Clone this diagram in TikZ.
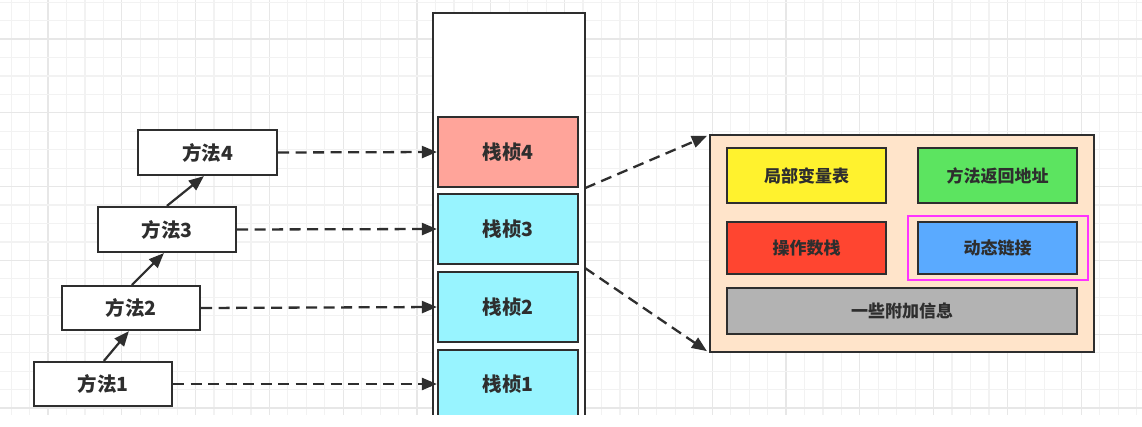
\documentclass[tikz,border=0pt]{standalone}
\usepackage{fontspec}
\setmainfont{Noto Sans CJK SC}
\usetikzlibrary{arrows.meta,calc}
\definecolor{gridminor}{HTML}{F2F2F2}
\definecolor{gridmajor}{HTML}{E7E7E7}
\definecolor{ink}{HTML}{2E2E2E}
\definecolor{salmon}{HTML}{FFA49A}
\definecolor{cyanf}{HTML}{98F4FF}
\definecolor{peach}{HTML}{FFE4CA}
\definecolor{yel}{HTML}{FFF22E}
\definecolor{grn}{HTML}{5CE460}
\definecolor{redf}{HTML}{FF4530}
\definecolor{blu}{HTML}{5AAAFF}
\definecolor{gry}{HTML}{B3B3B3}
\definecolor{mag}{HTML}{FF33FF}
\tikzset{
  x=1pt, y=-1pt,
  box/.style={draw=ink, line width=2.2pt, fill=white, text=ink, inner sep=0pt,
    font=\fontsize{19.5}{22}\selectfont\bfseries},
  methodbox/.style={box, minimum width=138pt, minimum height=44pt},
  framebox/.style={box, minimum width=140pt, minimum height=70pt},
  innerbox/.style={box, line width=2pt, font=\fontsize{17}{20}\selectfont\bfseries},
  callarrow/.style={draw=ink, line width=2.2pt, -{Triangle[length=15pt,width=12pt]}},
  refarrow/.style={draw=ink, line width=2.3pt, dash pattern=on 11pt off 6.5pt,
    -{Triangle[length=15pt,width=12pt]}},
}
\begin{document}
\begin{tikzpicture}
\useasboundingbox (0,0) rectangle (1142,426);
\fill[white] (0,0) rectangle (1142,426);
% grid
\begin{scope}
\clip (0,0) rectangle (1142,415);
\foreach \k in {-2,...,59} {
  \pgfmathsetmacro{\xx}{48+18.45*\k}
  \pgfmathtruncatemacro{\m}{mod(\k+40,4)}
  \ifnum\m=0
    \draw[gridmajor, line width=1.2pt] (\xx,0) -- (\xx,415);
  \else
    \draw[gridminor, line width=1.2pt] (\xx,0) -- (\xx,415);
  \fi
}
\foreach \k in {-2,...,21} {
  \pgfmathsetmacro{\yy}{39+18.45*\k}
  \pgfmathtruncatemacro{\m}{mod(\k+40,4)}
  \ifnum\m=0
    \draw[gridmajor, line width=1.2pt] (0,\yy) -- (1142,\yy);
  \else
    \draw[gridminor, line width=1.2pt] (0,\yy) -- (1142,\yy);
  \fi
}
\end{scope}

% stack
\node[draw=ink, line width=2.2pt, fill=white, minimum width=152pt, minimum height=440pt, inner sep=0pt, anchor=north west] (stack) at (432,12) {};
\node[framebox, fill=salmon] (f4) at (508,152) {栈桢4};
\node[framebox, fill=cyanf] (f3) at (508,229) {栈桢3};
\node[framebox, fill=cyanf] (f2) at (508,307) {栈桢2};
\node[framebox, fill=cyanf, minimum height=90pt, anchor=north] (f1) at (508,349) {};
\node[text=ink, font=\fontsize{19.5}{22}\selectfont\bfseries] (f1t) at (508,384) {栈桢1};

% methods
\node[methodbox, minimum width=139pt, minimum height=45pt] (m4) at (207.5,152.5) {方法4};
\node[methodbox, minimum height=45pt] (m3) at (167,229.5) {方法3};
\node[methodbox] (m2) at (131,308) {方法2};
\node[methodbox] (m1) at (103,384) {方法1};

\draw[callarrow] ($(m1.north west)+(71,0)$) -- ($(m2.south west)+(68,0)$);
\draw[callarrow] ($(m2.north west)+(71,0)$) -- ($(m3.south west)+(67,0)$);
\draw[callarrow] ($(m3.north west)+(70,0)$) -- ($(m4.south west)+(67,0)$);

\draw[refarrow] (m4.east) -- (f4.west);
\draw[refarrow] (m3.east) -- (f3.west);
\draw[refarrow] (m2.east) -- (f2.west);
\draw[refarrow] (m1.east) -- (f1t.west -| f1.west);

% detail
\node[draw=ink, line width=2.2pt, fill=peach, minimum width=384pt, minimum height=217pt, inner sep=0pt] (detail) at (902,243.5) {};
\node[innerbox, fill=yel, minimum width=159pt, minimum height=55pt] (lv) at (806.5,175.5) {局部变量表};
\node[innerbox, fill=grn, minimum width=159pt, minimum height=55pt] (ra) at (997.5,175.5) {方法返回地址};
\node[innerbox, fill=redf, minimum width=159pt, minimum height=52pt] (os) at (806.5,248) {操作数栈};
\node[innerbox, fill=blu, minimum width=159pt, minimum height=52pt] (dl) at (997.5,248) {动态链接};
\node[draw=mag, line width=2.5pt, minimum width=180pt, minimum height=64pt, inner sep=0pt] (hl) at (998,248) {};
\node[innerbox, fill=gry, minimum width=350pt, minimum height=46pt] (ai) at (902,311) {一些附加信息};

\draw[refarrow] ($(f4.south east)+(6,0)$) -- ($(detail.north west)+(-2,2)$);
\draw[refarrow] ($(f3.south east)+(6,3)$) -- ($(detail.south west)+(-2,-2)$);

\fill[white] (-5,415) rectangle (1150,440);
\end{tikzpicture}
\end{document}
